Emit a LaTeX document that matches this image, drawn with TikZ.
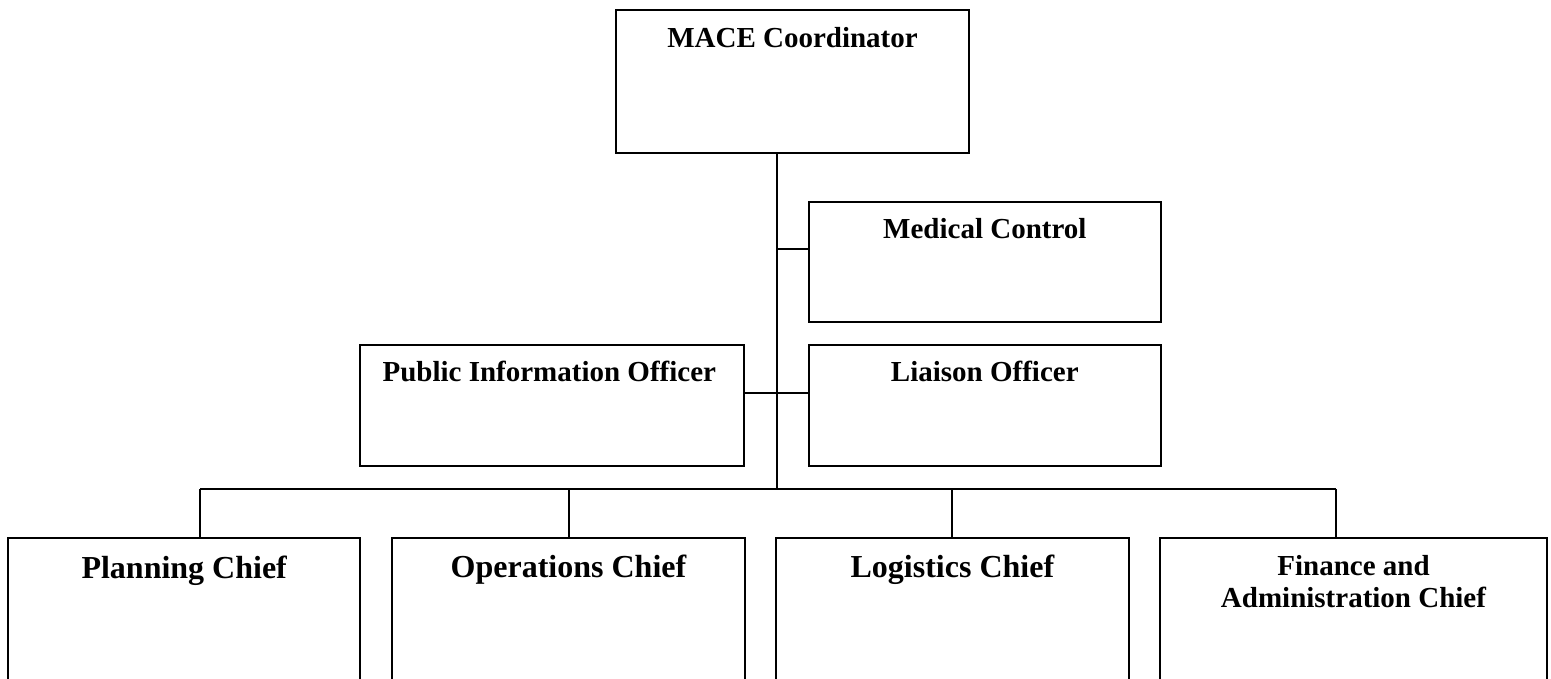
\documentclass[tikz,border=0pt]{standalone}
\usepackage{fontspec}
\setmainfont{Liberation Serif}
\tikzset{x=1pt, y=-1pt,
    chartbox/.style={draw, rectangle, line width=2pt, inner sep=0pt},
    boxtext/.style={inner sep=0pt, anchor=base, align=center,
        font=\bfseries\fontsize{29}{32.3}\selectfont},
    chieftext/.style={boxtext, font=\bfseries\fontsize{32}{35}\selectfont},
    link/.style={line width=2pt},
    }

\begin{document}
\begin{tikzpicture}
	\clip (0,0) rectangle (1551,678);
	% command staff
	\node[chartbox, minimum width=352.4pt, minimum height=143.6pt] (mace) at (792.5,81.5) {};
	\node[chartbox, minimum width=352pt, minimum height=120pt] (medical) at (984.8,261.7) {};
	\node[chartbox, minimum width=384.5pt, minimum height=120.7pt] (pio) at (552.2,405.3) {};
	\node[chartbox, minimum width=352pt, minimum height=120.7pt] (liaison) at (984.8,405.3) {};
	% section chiefs, running off the page
	\node[chartbox, minimum width=351.7pt, minimum height=170pt] (planning) at (184.2,622.5) {};
	\node[chartbox, minimum width=352.5pt, minimum height=170pt] (ops) at (568.5,622.5) {};
	\node[chartbox, minimum width=352.3pt, minimum height=170pt] (logistics) at (952.4,622.5) {};
	\node[chartbox, minimum width=386.4pt, minimum height=170pt] (finance) at (1353.5,622.5) {};

	\node[boxtext] (maceText) at (792.5,47.3) {MACE Coordinator};
	\node[boxtext] (medicalText) at (984.8,238.3) {Medical Control};
	\node[boxtext] (pioText) at (549.3,381.7) {Public Information Officer};
	\node[boxtext] (liaisonText) at (984.8,381.7) {Liaison Officer};
	\node[chieftext] (planningText) at (184.2,578) {Planning Chief};
	\node[chieftext] (opsText) at (568.5,577.5) {Operations Chief};
	\node[chieftext] (logisticsText) at (952.4,577.5) {Logistics Chief};
	\node[boxtext] (financeText) at (1353.5,607.3) {Finance and\\Administration Chief}; % base = last line

	\coordinate (medJoin) at (776.7,249.3);
	\coordinate (offJoin) at (776.7,393.3);
	\coordinate (busL) at (200,489.3);
	\coordinate (busM) at (776.7,489.3);
	\coordinate (busR) at (1336,489.3);

	\draw[link] (mace.south -| busM) -- (busM);
	\draw[link] (medJoin) -- (medJoin -| medical.west);
	\draw[link] (offJoin -| pio.east) -- (offJoin -| liaison.west);
	\draw[link] (busL) -- (busR);
	\draw[link] (busL) -- (busL |- planning.north);
	\draw[link] (busL -| ops.north) -- (ops.north);
	\draw[link] (busL -| logistics.north) -- (logistics.north);
	\draw[link] (busR) -- (busR |- finance.north);
\end{tikzpicture}
\end{document}
